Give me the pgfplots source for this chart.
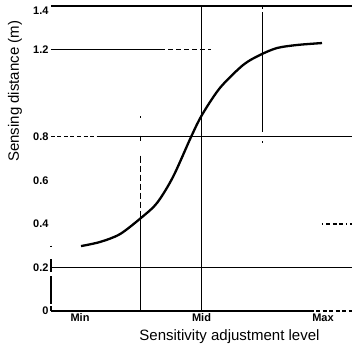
\documentclass[border=0pt]{standalone}
\usepackage{pgfplots}
\pgfplotsset{compat=1.18}
\usepackage{fontspec}
\setmainfont{Liberation Sans}
\begin{document}
\begin{tikzpicture}
\begin{axis}[
  name=ax,
  width=301pt, height=305pt, scale only axis,
  xmin=-0.239, xmax=2.239, ymin=0, ymax=1.4,
  clip=false,
  axis line style={draw=none},
  major tick length=0pt,
  xtick={0,1,2}, xticklabels={Min,Mid,Max},
  ytick={0,0.2,0.4,0.6,0.8,1.2},
  yticklabels={0,0.2,0.4,0.6,0.8,1.2},
  extra y ticks={1.4}, extra y tick labels={1.4},
  extra y tick style={yticklabel style={yshift=-5pt}},
  /pgf/number format/assume math mode=true,
  tick label style={font=\fontsize{11}{12}\selectfont\bfseries},
  xticklabel style={yshift=1pt},
  yticklabel style={xshift=1pt},
  xlabel={Sensitivity adjustment level},
  ylabel={Sensing distance (m)},
  label style={font=\fontsize{15}{17}\selectfont},
  xlabel style={at={(axis description cs:0.593,-0.085)}, anchor=center},
  ylabel style={at={(axis description cs:-0.12,0.72)}, anchor=center},
]
% horizontal reference lines
\addplot[black, line width=1.9pt] coordinates {(-0.239,1.4) (2.239,1.4)};
\addplot[black, line width=1.3pt] coordinates {(-0.239,1.2) (0.66,1.2)};
\addplot[black, line width=1.3pt, dash pattern=on 5pt off 3pt] coordinates {(0.66,1.2) (1.08,1.2)};
\addplot[black, line width=1.3pt, dash pattern=on 4pt off 2.5pt] coordinates {(-0.239,0.8) (0.14,0.8)};
\addplot[black, line width=1.3pt] coordinates {(0.14,0.8) (2.239,0.8)};
\addplot[black, line width=1.3pt, dash pattern=on 1.5pt off 3pt on 4pt off 2.5pt on 4pt off 2.5pt on 4pt off 2.5pt] coordinates {(1.99,0.4) (2.239,0.4)};
\addplot[black, line width=1.3pt] coordinates {(-0.239,0.2) (2.239,0.2)};
\addplot[black, line width=1.3pt] coordinates {(-0.239,0) (1.89,0)};
\addplot[black, line width=1.3pt, dash pattern=on 4pt off 2.5pt] coordinates {(1.89,0) (2.239,0)};
% left axis fragment
\addplot[black, line width=1.3pt, dash pattern=on 1.5pt off 12pt on 13pt off 4pt on 28pt off 2pt on 10pt] coordinates {(-0.239,0.3) (-0.239,0)};
% vertical reference lines
\addplot[black, line width=1.3pt, dash pattern=on 1.5pt off 18pt on 5pt off 15pt on 7pt off 3pt on 6pt off 3pt on 6pt off 3pt on 6pt off 3pt on 6pt off 3pt on 6pt off 3pt on 6pt off 3pt] coordinates {(0.5,0.895) (0.5,0.43)};
\addplot[black, line width=1.3pt] coordinates {(0.5,0.43) (0.5,0)};
\addplot[black, line width=1.3pt] coordinates {(1,1.4) (1,0)};
\addplot[black, line width=1.3pt, dash pattern=on 3pt off 3pt on 200pt] coordinates {(1.5,1.4) (1.5,0.82)};
\addplot[black, line width=1.3pt, dash pattern=on 1.5pt off 20pt] coordinates {(1.5,0.78) (1.5,0.76)};
% sensing distance curve
\addplot[black, line width=2.3pt, smooth, tension=0.5] coordinates {
(0.008,0.298) (0.165,0.317) (0.329,0.353) (0.510,0.431)
(0.634,0.496) (0.765,0.615) (0.914,0.799) (1.004,0.900)
(1.152,1.024) (1.342,1.129) (1.481,1.175)
(1.621,1.207) (1.786,1.221) (1.992,1.230)};
\end{axis}
\pgfresetboundingbox
\useasboundingbox ([shift={(-51pt,-40pt)}]ax.south west) rectangle ([shift={(301pt,311pt)}]ax.south west);
\end{tikzpicture}
\end{document}
